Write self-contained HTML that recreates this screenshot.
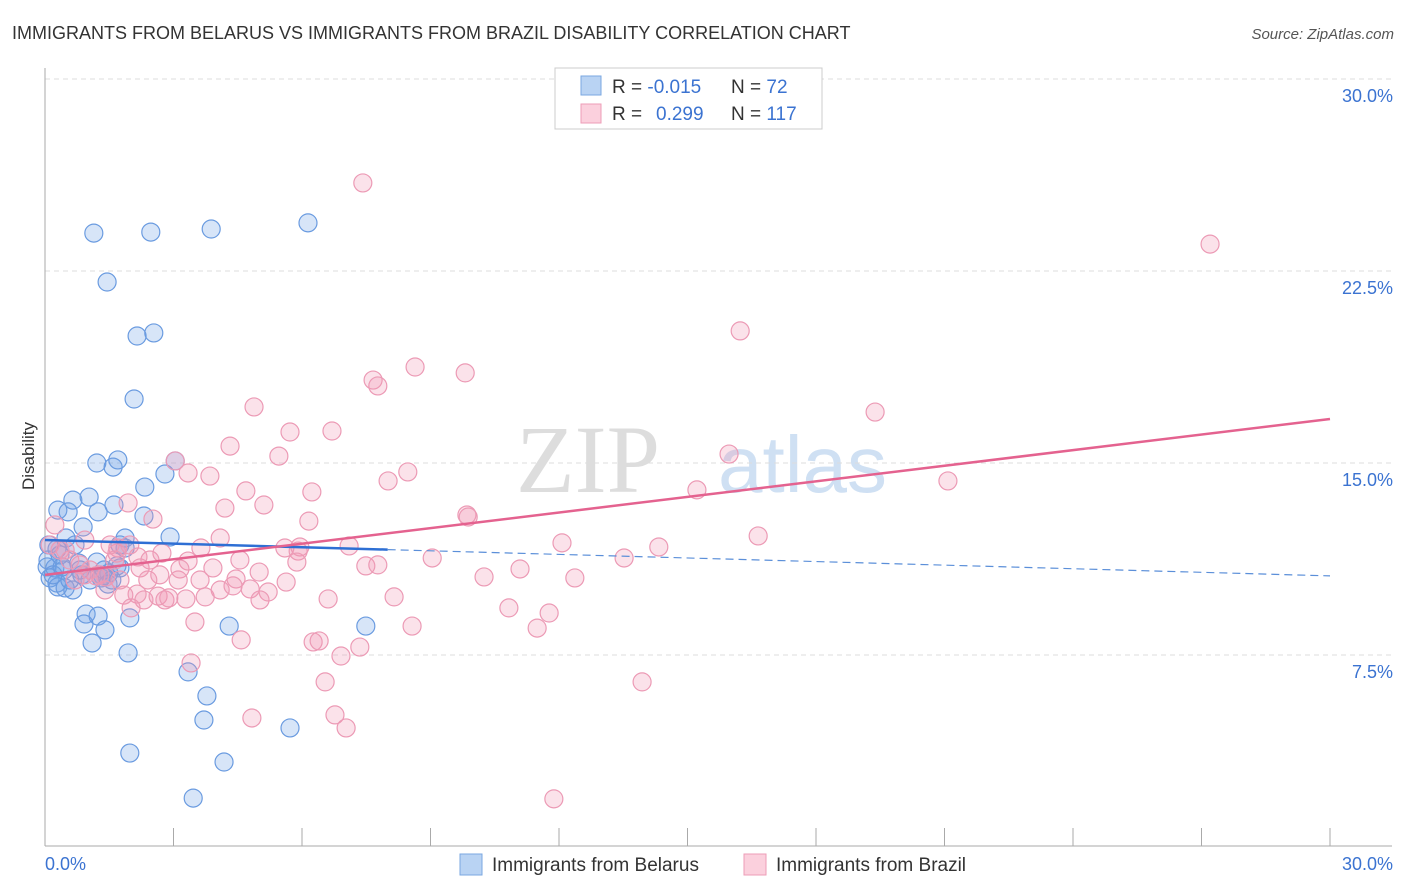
<!DOCTYPE html>
<html><head><meta charset="utf-8"><style>
body{margin:0;background:#fff;font-family:"Liberation Sans",sans-serif}
svg{display:block}
</style></head><body>
<svg id="chart" width="1406" height="892">
<text x="12" y="39" font-size="18" fill="#333">IMMIGRANTS FROM BELARUS VS IMMIGRANTS FROM BRAZIL DISABILITY CORRELATION CHART</text>
<text x="1394" y="39" font-size="15" fill="#555" font-style="italic" text-anchor="end">Source: ZipAtlas.com</text>
<text x="660" y="492" font-size="96" fill="#ddd" font-family="Liberation Serif" text-anchor="end">ZIP</text>
<text x="718" y="492" font-size="80" fill="#cfe0f3">atlas</text>
<g id="grid"></g><g id="axes"></g><g id="pts"></g><g id="trend"></g>
<text transform="translate(34,456) rotate(-90)" font-size="17" fill="#333" text-anchor="middle">Disability</text>
<g>
<rect x="555" y="68" width="267" height="61" fill="#fff" stroke="#ccc"/>
<rect x="581" y="76" width="20" height="19" fill="#b9d3f3" stroke="#7aa7e0"/>
<rect x="581" y="104" width="20" height="19" fill="#fbd0dd" stroke="#ee9db7"/>
<text x="612" y="93" font-size="19" fill="#333">R = <tspan fill="#3b73d1">-0.015</tspan><tspan x="731">N = </tspan><tspan fill="#3b73d1">72</tspan></text>
<text x="612" y="120" font-size="19" fill="#333">R = <tspan x="656" fill="#3b73d1">0.299</tspan><tspan x="731">N = </tspan><tspan fill="#3b73d1">117</tspan></text>
</g>
<g>
<rect x="460" y="854" width="22" height="21" fill="#b9d3f3" stroke="#7aa7e0"/>
<text x="492" y="871" font-size="19" fill="#333">Immigrants from Belarus</text>
<rect x="744" y="854" width="22" height="21" fill="#fbd0dd" stroke="#ee9db7"/>
<text x="776" y="871" font-size="19" fill="#333">Immigrants from Brazil</text>
</g>
</svg>
<script>
const yTicks=[7.5,15,22.5,30];
const yTickLabels=["7.5%","15.0%","22.5%","30.0%"];
const xTickLabels=["0.0%","30.0%"];
const belarusPx=[[94,233],[151,232],[211,229],[308,223],[107,282],[137,336],[154,333],[134,399],[97,463],[113,467],[118,460],[175,461],[165,474],[145,487],[73,500],[89,497],[58,510],[68,512],[98,512],[114,505],[144,516],[83,527],[170,537],[125,538],[66,538],[49,545],[57,549],[125,548],[79,563],[97,562],[47,567],[55,568],[64,570],[50,578],[104,570],[117,566],[120,568],[109,573],[82,575],[57,583],[58,587],[103,576],[101,578],[108,584],[65,588],[73,590],[86,614],[98,616],[84,624],[105,630],[130,618],[229,626],[366,626],[92,643],[128,653],[188,672],[207,696],[204,720],[290,728],[130,753],[224,762],[193,798],[48,560],[53,575],[70,580],[60,555],[90,580],[112,580],[75,545],[120,545],[62,567],[80,570]];
const brazilPx=[[363,183],[1210,244],[740,331],[415,367],[373,380],[378,386],[465,373],[254,407],[875,412],[290,432],[332,431],[230,446],[279,456],[175,461],[729,454],[408,472],[188,473],[210,476],[388,481],[246,491],[312,492],[697,490],[948,481],[264,505],[128,503],[225,508],[153,519],[467,515],[468,517],[309,521],[220,538],[758,536],[562,543],[349,546],[659,547],[285,548],[300,547],[201,548],[118,548],[298,551],[162,553],[432,558],[624,558],[117,553],[138,557],[297,562],[366,566],[378,565],[188,561],[520,569],[213,568],[259,572],[140,568],[180,569],[575,578],[484,577],[106,577],[148,580],[236,579],[286,582],[178,580],[96,576],[233,586],[250,589],[268,592],[205,597],[158,596],[137,594],[124,595],[186,599],[165,600],[144,600],[394,597],[328,599],[169,598],[131,608],[509,608],[549,613],[195,622],[412,626],[537,628],[241,640],[313,642],[319,641],[341,656],[360,647],[191,663],[642,682],[325,682],[252,718],[335,715],[346,728],[554,799],[55,525],[60,550],[70,560],[80,565],[90,570],[100,575],[50,545],[65,550],[75,580],[85,575],[115,560],[130,545],[85,540],[110,545],[150,560],[160,575],[200,580],[220,590],[240,560],[260,600],[105,590],[120,580]];
// convert reading coordinates into data values (percent)
const belarusX=belarusPx.map(p=>+((p[0]-45)*30/1285).toFixed(2));
const belarusY=belarusPx.map(p=>+((847-p[1])*7.5/192).toFixed(2));
const brazilX=brazilPx.map(p=>+((p[0]-45)*30/1285).toFixed(2));
const brazilY=brazilPx.map(p=>+((847-p[1])*7.5/192).toFixed(2));
const belarusTrend=[11.99,10.59];
const brazilTrend=[10.63,16.72];
const belarusSolidEnd=8.0;

const X=v=>45+v/30*1285, Y=v=>847-v/7.5*192;
const NS="http://www.w3.org/2000/svg";
function mk(tag,attrs,parent){const e=document.createElementNS(NS,tag);for(const k in attrs)e.setAttribute(k,attrs[k]);document.getElementById(parent).appendChild(e);return e;}
yTicks.forEach((t,i)=>{
 const l=mk('line',{x1:45,x2:1392,y1:Y(t),y2:Y(t),stroke:'#ddd','stroke-dasharray':'5,4'},'grid');
 
 
 const tx=mk('text',{x:1393,y:Y(t)+23,'font-size':18,fill:'#3b73d1','text-anchor':'end'},'axes');
 tx.textContent=yTickLabels[i];
 
 
});
const ax=mk('line',{x1:45,x2:45,y1:68,y2:846,stroke:'#aaa'},'axes');


const bx=mk('line',{x1:45,x2:1392,y1:846,y2:846,stroke:'#aaa'},'axes');


for(let i=1;i<=10;i++){const t=mk('line',{x1:X(i*3),x2:X(i*3),y1:828,y2:846,stroke:'#aaa'},'axes');
 
 }
[[0,'start',45],[30,'end',1393]].forEach((d,i)=>{const t=mk('text',{x:d[2],y:870,'font-size':18,fill:'#3b73d1','text-anchor':d[1]},'axes');t.textContent=xTickLabels[i];
 
 });
function pts(xs,ys,fill,stroke,name){xs.forEach((x,i)=>{const c=mk('circle',{cx:X(x),cy:Y(ys[i]),r:9,fill:fill,stroke:stroke,'stroke-width':1.2},'pts');
 
 });}
pts(belarusX,belarusY,'rgba(110,160,230,0.28)','#6a9be0','belarus-point');
pts(brazilX,brazilY,'rgba(240,150,180,0.28)','#ec9ab5','brazil-point');
const by=x=>belarusTrend[0]+(belarusTrend[1]-belarusTrend[0])*x/30;
const l1=mk('line',{x1:X(0),y1:Y(by(0)),x2:X(belarusSolidEnd),y2:Y(by(belarusSolidEnd)),stroke:'#2e6fd4','stroke-width':2.5},'trend');


const l2=mk('line',{x1:X(belarusSolidEnd),y1:Y(by(belarusSolidEnd)),x2:X(30),y2:Y(by(30)),stroke:'#5b8fd9','stroke-width':1.2,'stroke-dasharray':'8,5'},'trend');


const l3=mk('line',{x1:X(0),y1:Y(brazilTrend[0]),x2:X(30),y2:Y(brazilTrend[1]),stroke:'#e4628f','stroke-width':2.5},'trend');


</script>
</body></html>
